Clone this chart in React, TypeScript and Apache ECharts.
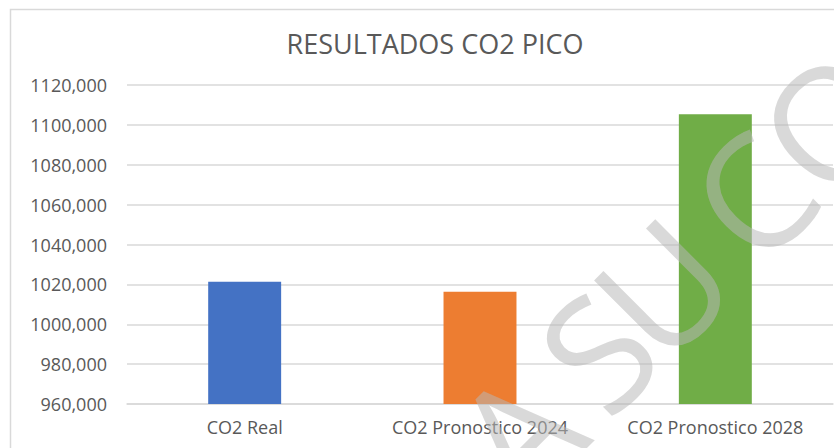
import React, { useEffect, useRef } from "react";
import * as echarts from "echarts";

const categories = ["CO2 Real", "CO2 Pronostico 2024", "CO2 Pronostico 2028"];
const values = [1021.3, 1016.3, 1105.3];
const barColors = ["#4472C4", "#ED7D31", "#70AD47"];
const yMin = 960;
const yMax = 1120;
const yStep = 20;
const titleText = "RESULTADOS CO2 PICO";
const watermarkLetters = ["A", "S", "U", "C", "O"];
const watermarkPos = [
  [516, 432],
  [596, 350],
  [661, 286],
  [751, 194],
  [828, 120],
];

export default function App() {
  const ref = useRef<HTMLDivElement>(null);
  useEffect(() => {
    if (!ref.current) return;
    const chart = echarts.init(ref.current, null, { renderer: "svg" });
    const font = "'Open Sans', 'Noto Sans', sans-serif";
    chart.setOption({
      animation: false,
      backgroundColor: "#ffffff",
      title: {
        text: titleText,
        left: 435,
        top: 30,
        padding: 0,
        textAlign: "center",
        textStyle: { color: "#595959", fontSize: 27, fontWeight: "normal", fontFamily: font },
      },
      grid: { left: 127, right: 1, top: 85, bottom: 44 },
      xAxis: {
        type: "category",
        data: categories,
        axisLine: { show: true, lineStyle: { color: "#d9d9d9", width: 1.5 } },
        axisTick: { show: false },
        axisLabel: { color: "#595959", fontSize: 18, fontFamily: font, margin: 14 },
        splitLine: { show: false },
      },
      yAxis: {
        type: "value",
        min: yMin,
        max: yMax,
        interval: yStep,
        axisLine: { show: false },
        axisTick: { show: false },
        axisLabel: {
          color: "#595959",
          fontSize: 18,
          fontFamily: font,
          margin: 20,
          formatter: (v: number) => v.toFixed(3).replace(".", ","),
        },
        splitLine: { lineStyle: { color: "#d9d9d9", width: 1.5 } },
      },
      series: [
        {
          type: "bar",
          barWidth: "31%",
          data: values.map((v, i) => ({ value: v, itemStyle: { color: barColors[i] } })),
        },
      ],
      graphic: [
        {
          type: "rect",
          shape: { x: 10.5, y: 9.5, width: 1000, height: 1000 },
          style: { fill: "none", stroke: "#d9d9d9", lineWidth: 1.5 },
          z: 0,
          silent: true,
        },
        ...watermarkLetters.map((ch, i) => ({
          type: "text",
          x: watermarkPos[i][0],
          y: watermarkPos[i][1],
          rotation: Math.PI / 4,
          z: 100,
          silent: true,
          style: {
            text: ch,
            fontSize: 158,
            fontFamily: font,
            fill: "rgba(183,183,183,0.53)",
            align: "center",
            verticalAlign: "middle",
          },
        })),
      ],
    });
    return () => chart.dispose();
  }, []);
  return (
    <div
      ref={ref}
      style={{ position: "fixed", left: 0, top: 0, width: 834, height: 448 }}
    />
  );
}
